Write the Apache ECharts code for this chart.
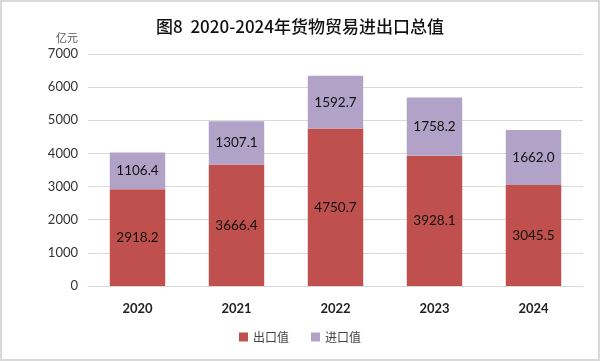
<!DOCTYPE html>
<html><head><meta charset="utf-8">
<script src="https://cdn.jsdelivr.net/npm/echarts@6/dist/echarts.min.js"></script>
<style>
html,body{margin:0;padding:0;background:#fff;}
#wrap{position:relative;width:600px;height:361px;}
#c{width:600px;height:361px;}
#frame{position:absolute;left:0;top:0;width:600px;height:361px;box-sizing:border-box;border:2px solid #d9d9d9;pointer-events:none;}
</style></head>
<body><div id="wrap"><div id="c"></div><div id="frame"></div></div>
<script>
const categories = ['2020','2021','2022','2023','2024'];
const exportValues = [2918.2, 3666.4, 4750.7, 3928.1, 3045.5];
const importValues = [1106.4, 1307.1, 1592.7, 1758.2, 1662.0];
const seriesNames = ['出口值','进口值'];
const yTicks = {min:0, max:7000, interval:1000};

const chart = echarts.init(document.getElementById('c'));
const numFont = 'Lato, "Noto Sans CJK SC", sans-serif';
chart.setOption({
  animation:false,
  title:{text:'图8  2020-2024年货物贸易进出口总值', left:'center', top:13,
    textStyle:{fontFamily:'"Noto Sans CJK SC", sans-serif', fontSize:17, fontWeight:500, color:'#111'}},
  legend:{bottom:13, left:'center', itemWidth:9, itemHeight:9, itemGap:22, icon:'rect',
    textStyle:{fontFamily:'"Noto Sans CJK SC", sans-serif', fontSize:12, color:'#444'},
    data:seriesNames},
  grid:{left:88, right:17, top:54, bottom:75},
  xAxis:{type:'category', data:categories,
    axisLine:{lineStyle:{color:'#d9d9d9'}}, axisTick:{show:false},
    axisLabel:{fontFamily:numFont, fontSize:13, fontWeight:'bold', color:'#222', margin:16}},
  yAxis:{type:'value', min:yTicks.min, max:yTicks.max, interval:yTicks.interval,
    name:'亿元', nameLocation:'end', nameGap:11,
    nameTextStyle:{fontFamily:'"Noto Sans CJK SC", sans-serif', fontSize:11, color:'#555', align:'right', padding:[0,10,0,0]},
    axisLabel:{fontFamily:numFont, fontSize:13, color:'#333', margin:10, formatter:v=>String(v)},
    splitLine:{lineStyle:{color:'#d9d9d9'}}},
  series:[
    {name:seriesNames[0], type:'bar', stack:'t', data:exportValues, barWidth:'56%',
     itemStyle:{color:'#C0504D'},
     label:{show:true, position:'inside', color:'#111', fontSize:13.5, fontFamily:numFont, formatter:p=>p.value.toFixed(1)}},
    {name:seriesNames[1], type:'bar', stack:'t', data:importValues, barWidth:'56%',
     itemStyle:{color:'#B3A2C7'},
     label:{show:true, position:'inside', color:'#111', fontSize:13.5, fontFamily:numFont, formatter:p=>p.value.toFixed(1)}}
  ]
});
</script></body></html>
